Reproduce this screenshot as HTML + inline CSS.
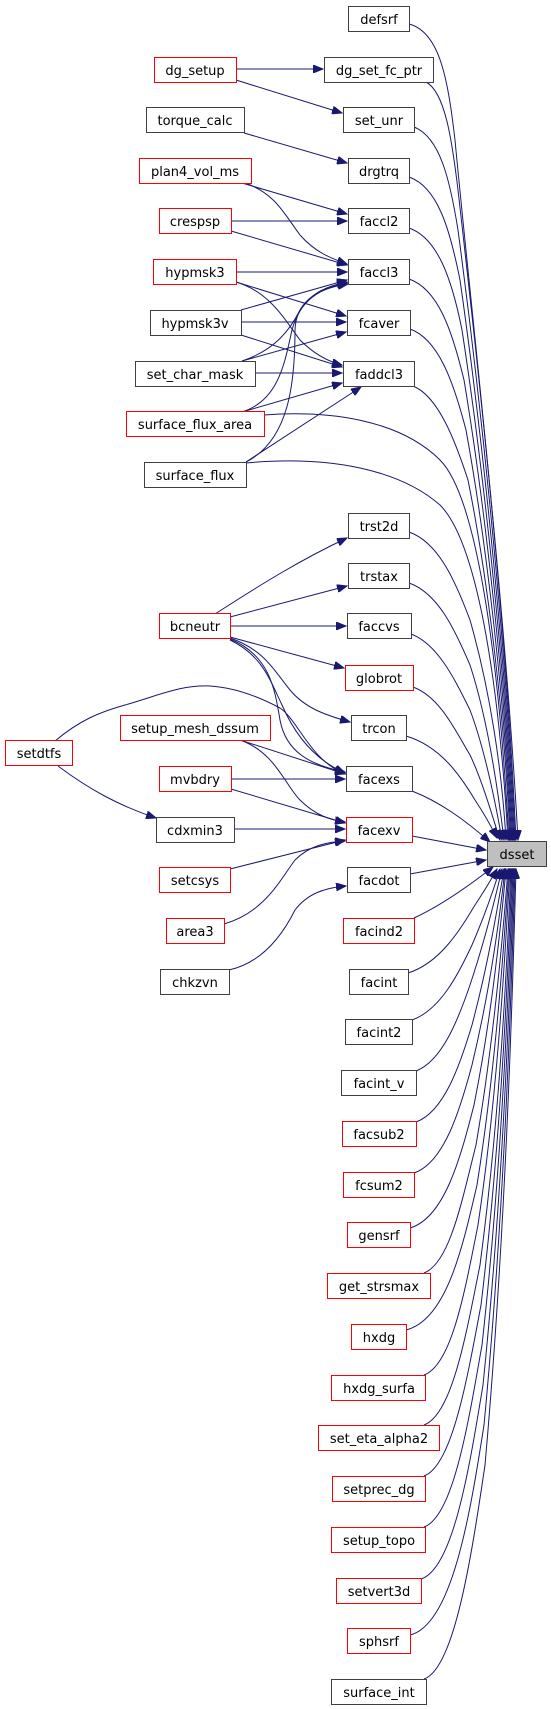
<!DOCTYPE html>
<html><head><meta charset="utf-8"><style>
html,body{margin:0;padding:0;background:#fff;}
svg{display:block;}
text{font-family:"DejaVu Sans","Liberation Sans",sans-serif;font-size:13px;fill:#000;text-anchor:middle;}
.n rect{fill:#fff;stroke:#404040;stroke-width:1;}
.r rect{fill:#fff;stroke:#ff0000;stroke-width:1;}
.e path{fill:none;stroke:#191970;stroke-width:1;}
</style></head><body>
<svg width="551" height="1709" viewBox="0 0 551 1709" xmlns="http://www.w3.org/2000/svg">
<defs>
<marker id="a" markerUnits="userSpaceOnUse" markerWidth="11" markerHeight="8" refX="10" refY="4" orient="auto">
<path d="M0,0 L10,4 L0,8 z" fill="#191970" stroke="#191970"/>
</marker>
</defs>
<g class="e" marker-end="url(#a)">
<!-- left edges upper -->
<path d="M236,69 L323,69" marker-end="url(#a)"/>
<path d="M236,80 L342,113" marker-end="url(#a)"/>
<path d="M244,133 L347,163" marker-end="url(#a)"/>
<path d="M242,183 L347,214" marker-end="url(#a)"/>
<path d="M245,183 C275,193 285,215 300,235 C315,252 330,258 347,264" marker-end="url(#a)"/>
<path d="M231,221 L347,221" marker-end="url(#a)"/>
<path d="M231,231 L347,265" marker-end="url(#a)"/>
<path d="M236,272 L347,272" marker-end="url(#a)"/>
<path d="M236,282 L346,316" marker-end="url(#a)"/>
<path d="M236,282 C270,292 285,320 300,340 C315,355 330,362 342,365" marker-end="url(#a)"/>
<path d="M241,310 L347,280" marker-end="url(#a)"/>
<path d="M241,322 L346,322" marker-end="url(#a)"/>
<path d="M241,335 L342,367" marker-end="url(#a)"/>
<path d="M242,361 C275,350 290,330 300,310 C312,292 328,286 347,282" marker-end="url(#a)"/>
<path d="M242,361 L346,332" marker-end="url(#a)"/>
<path d="M255,373 L342,373" marker-end="url(#a)"/>
<path d="M242,412 C280,400 285,360 292,330 C300,300 320,288 347,283" marker-end="url(#a)"/>
<path d="M242,412 L342,383" marker-end="url(#a)"/>
<path d="M246,462 C290,440 295,380 295,330 C296,300 320,288 348,284" marker-end="url(#a)"/>
<path d="M246,462 L361,387" marker-end="url(#a)"/>
<!-- middle left edges -->
<path d="M215,614 C260,585 300,560 347,538" marker-end="url(#a)"/>
<path d="M230,617 L347,586" marker-end="url(#a)"/>
<path d="M230,626 L346,626" marker-end="url(#a)"/>
<path d="M230,637 L344,668" marker-end="url(#a)"/>
<path d="M230,638 C265,650 275,672 290,690 C305,708 325,715 350,722" marker-end="url(#a)"/>
<path d="M230,639 C270,655 275,690 280,720 C286,752 310,765 345,772" marker-end="url(#a)"/>
<path d="M230,640 C262,655 270,680 282,705 C295,735 315,760 345,773" marker-end="url(#a)"/>
<path d="M55,741 C80,720 100,712 125,705 C160,695 180,685 210,686 C240,688 265,700 280,708 C298,720 310,760 345,774" marker-end="url(#a)"/>
<path d="M240,740 L345,774" marker-end="url(#a)"/>
<path d="M240,740 C275,752 285,785 300,800 C315,815 330,820 345,822" marker-end="url(#a)"/>
<path d="M231,779 L345,779" marker-end="url(#a)"/>
<path d="M231,789 L345,823" marker-end="url(#a)"/>
<path d="M58,766 C90,790 120,806 156,818" marker-end="url(#a)"/>
<path d="M234,829 L345,829" marker-end="url(#a)"/>
<path d="M230,869 L345,840" marker-end="url(#a)"/>
<path d="M224,924 C265,912 280,880 295,860 C310,845 328,842 345,841" marker-end="url(#a)"/>
<path d="M229,970 C265,962 285,930 295,910 C308,893 325,888 346,886" marker-end="url(#a)"/>
<!-- edges to dsset from above -->
<path d="M409,24 C440,32 448,80 455,140 C470,300 505,600 518,840" marker-end="url(#a)"/>
<path d="M426,82 C445,92 452,140 458,190 C475,340 505,600 516,840" marker-end="url(#a)"/>
<path d="M414,127 C440,137 450,180 458,230 C478,380 505,620 515,840" marker-end="url(#a)"/>
<path d="M409,177 C438,187 450,230 460,280 C480,420 505,640 514,840" marker-end="url(#a)"/>
<path d="M409,228 C438,238 452,280 462,330 C482,460 505,660 513,840" marker-end="url(#a)"/>
<path d="M409,279 C438,289 452,330 464,380 C484,500 505,680 512,840" marker-end="url(#a)"/>
<path d="M410,329 C438,339 453,380 466,430 C486,540 505,700 511,840" marker-end="url(#a)"/>
<path d="M413,386 C438,396 455,440 468,480 C488,580 505,720 510,840" marker-end="url(#a)"/>
<path d="M264,415 C330,410 400,420 440,460 C480,500 500,680 509,840" marker-end="url(#a)"/>
<path d="M246,463 C330,455 400,470 440,505 C480,545 500,700 508,840" marker-end="url(#a)"/>
<path d="M409,532 C438,542 455,580 470,620 C490,690 502,770 506,840" marker-end="url(#a)"/>
<path d="M409,583 C438,593 455,630 470,665 C488,720 498,790 504,840" marker-end="url(#a)"/>
<path d="M411,634 C438,644 455,680 470,710 C485,750 495,800 502,840" marker-end="url(#a)"/>
<path d="M413,687 C440,697 455,730 470,755 C482,780 492,815 500,840" marker-end="url(#a)"/>
<path d="M406,736 C440,746 460,775 475,800 C485,815 492,828 497,838" marker-end="url(#a)"/>
<path d="M412,791 C440,802 465,820 490,842" marker-end="url(#a)"/>
<path d="M412,836 L486,850" marker-end="url(#a)"/>
<path d="M410,874 L486,860" marker-end="url(#a)"/>
<path d="M414,918 C440,906 470,885 493,867" marker-end="url(#a)"/>
<!-- edges to dsset from below -->
<path d="M408,973 C440,963 460,930 475,905 C485,890 492,878 497,869" marker-end="url(#a)"/>
<path d="M412,1020 C440,1010 458,975 472,945 C485,915 495,885 500,869" marker-end="url(#a)"/>
<path d="M416,1071 C442,1061 458,1020 470,985 C485,940 496,895 502,869" marker-end="url(#a)"/>
<path d="M416,1122 C444,1112 460,1065 472,1025 C488,965 498,905 504,869" marker-end="url(#a)"/>
<path d="M414,1173 C444,1163 460,1110 472,1065 C490,990 500,915 505,869" marker-end="url(#a)"/>
<path d="M410,1228 C444,1218 460,1160 474,1105 C492,1015 501,925 506,869" marker-end="url(#a)"/>
<path d="M424,1273 C450,1263 462,1200 476,1145 C494,1040 503,935 508,869" marker-end="url(#a)"/>
<path d="M406,1330 C446,1320 462,1250 477,1185 C496,1065 504,945 509,869" marker-end="url(#a)"/>
<path d="M424,1375 C452,1365 465,1290 478,1225 C498,1090 505,955 510,869" marker-end="url(#a)"/>
<path d="M424,1425 C452,1415 466,1335 480,1265 C500,1115 507,965 511,869" marker-end="url(#a)"/>
<path d="M424,1476 C452,1466 467,1380 481,1305 C501,1140 508,975 512,869" marker-end="url(#a)"/>
<path d="M424,1527 C453,1517 468,1425 482,1345 C502,1165 509,985 513,869" marker-end="url(#a)"/>
<path d="M421,1579 C453,1569 469,1470 483,1385 C503,1190 510,995 514,869" marker-end="url(#a)"/>
<path d="M410,1635 C452,1625 470,1515 484,1425 C504,1215 511,1005 515,869" marker-end="url(#a)"/>
<path d="M424,1679 C454,1669 471,1560 485,1465 C505,1240 512,1015 516,869" marker-end="url(#a)"/>
</g>
<!-- nodes -->
<g class="n"><rect x="348.5" y="6.5" width="61" height="25"/><text x="379" y="24">defsrf</text></g>
<g class="n"><rect x="324.5" y="57.5" width="109" height="25"/><text x="379" y="75">dg_set_fc_ptr</text></g>
<g class="n"><rect x="343.5" y="107.5" width="71" height="25"/><text x="379" y="125">set_unr</text></g>
<g class="n"><rect x="348.5" y="158.5" width="61" height="25"/><text x="379" y="176">drgtrq</text></g>
<g class="n"><rect x="348.5" y="208.5" width="61" height="25"/><text x="379" y="226">faccl2</text></g>
<g class="n"><rect x="348.5" y="259.5" width="61" height="25"/><text x="379" y="277">faccl3</text></g>
<g class="n"><rect x="347.5" y="310.5" width="63" height="25"/><text x="379" y="328">fcaver</text></g>
<g class="n"><rect x="343.5" y="361.5" width="71" height="25"/><text x="379" y="379">faddcl3</text></g>
<g class="r"><rect x="154.5" y="57.5" width="82" height="25"/><text x="195" y="75">dg_setup</text></g>
<g class="n"><rect x="146.5" y="107.5" width="98" height="25"/><text x="195" y="125">torque_calc</text></g>
<g class="r"><rect x="139.5" y="158.5" width="112" height="25"/><text x="195" y="176">plan4_vol_ms</text></g>
<g class="r"><rect x="159.5" y="208.5" width="72" height="25"/><text x="195" y="226">crespsp</text></g>
<g class="r"><rect x="153.5" y="259.5" width="83" height="25"/><text x="195" y="277">hypmsk3</text></g>
<g class="n"><rect x="150.5" y="310.5" width="91" height="25"/><text x="195" y="328">hypmsk3v</text></g>
<g class="n"><rect x="135.5" y="361.5" width="120" height="25"/><text x="195" y="379">set_char_mask</text></g>
<g class="r"><rect x="126.5" y="411.5" width="138" height="25"/><text x="195" y="429">surface_flux_area</text></g>
<g class="n"><rect x="144.5" y="462.5" width="102" height="25"/><text x="195" y="480">surface_flux</text></g>
<g class="n"><rect x="348.5" y="513.5" width="61" height="25"/><text x="379" y="531">trst2d</text></g>
<g class="n"><rect x="348.5" y="563.5" width="61" height="25"/><text x="379" y="581">trstax</text></g>
<g class="n"><rect x="347.5" y="613.5" width="64" height="25"/><text x="379" y="631">faccvs</text></g>
<g class="r"><rect x="345.5" y="665.5" width="68" height="25"/><text x="379" y="683">globrot</text></g>
<g class="n"><rect x="351.5" y="715.5" width="55" height="25"/><text x="379" y="733">trcon</text></g>
<g class="n"><rect x="346.5" y="766.5" width="66" height="25"/><text x="379" y="784">facexs</text></g>
<g class="r"><rect x="346.5" y="817.5" width="66" height="25"/><text x="379" y="835">facexv</text></g>
<g class="n"><rect x="487.5" y="841.5" width="59" height="25" style="fill:#bfbfbf"/><text x="517" y="859">dsset</text></g>
<g class="n"><rect x="347.5" y="867.5" width="63" height="25"/><text x="379" y="885">facdot</text></g>
<g class="r"><rect x="343.5" y="918.5" width="71" height="25"/><text x="379" y="936">facind2</text></g>
<g class="r"><rect x="159.5" y="613.5" width="71" height="25"/><text x="195" y="631">bcneutr</text></g>
<g class="r"><rect x="120.5" y="715.5" width="150" height="25"/><text x="195" y="733">setup_mesh_dssum</text></g>
<g class="r"><rect x="5.5" y="740.5" width="67" height="25"/><text x="39" y="758">setdtfs</text></g>
<g class="r"><rect x="159.5" y="766.5" width="72" height="25"/><text x="195" y="784">mvbdry</text></g>
<g class="n"><rect x="156.5" y="817.5" width="78" height="25"/><text x="195" y="835">cdxmin3</text></g>
<g class="r"><rect x="159.5" y="867.5" width="71" height="25"/><text x="195" y="885">setcsys</text></g>
<g class="r"><rect x="166.5" y="918.5" width="58" height="25"/><text x="195" y="936">area3</text></g>
<g class="n"><rect x="160.5" y="969.5" width="69" height="25"/><text x="195" y="987">chkzvn</text></g>
<g class="n"><rect x="349.5" y="969.5" width="59" height="25"/><text x="379" y="987">facint</text></g>
<g class="n"><rect x="345.5" y="1019.5" width="67" height="25"/><text x="379" y="1037">facint2</text></g>
<g class="n"><rect x="341.5" y="1070.5" width="75" height="25"/><text x="379" y="1088">facint_v</text></g>
<g class="r"><rect x="342.5" y="1121.5" width="74" height="25"/><text x="379" y="1139">facsub2</text></g>
<g class="r"><rect x="343.5" y="1172.5" width="71" height="25"/><text x="379" y="1190">fcsum2</text></g>
<g class="r"><rect x="347.5" y="1222.5" width="63" height="25"/><text x="379" y="1240">gensrf</text></g>
<g class="r"><rect x="327.5" y="1273.5" width="103" height="25"/><text x="379" y="1291">get_strsmax</text></g>
<g class="r"><rect x="351.5" y="1324.5" width="55" height="25"/><text x="379" y="1342">hxdg</text></g>
<g class="r"><rect x="331.5" y="1375.5" width="94" height="25"/><text x="379" y="1393">hxdg_surfa</text></g>
<g class="r"><rect x="318.5" y="1425.5" width="121" height="25"/><text x="379" y="1443">set_eta_alpha2</text></g>
<g class="r"><rect x="332.5" y="1476.5" width="93" height="25"/><text x="379" y="1494">setprec_dg</text></g>
<g class="r"><rect x="331.5" y="1527.5" width="94" height="25"/><text x="379" y="1545">setup_topo</text></g>
<g class="r"><rect x="336.5" y="1578.5" width="85" height="25"/><text x="379" y="1596">setvert3d</text></g>
<g class="r"><rect x="347.5" y="1628.5" width="63" height="25"/><text x="379" y="1646">sphsrf</text></g>
<g class="n"><rect x="331.5" y="1679.5" width="95" height="25"/><text x="379" y="1697">surface_int</text></g>
</svg>
</body></html>
